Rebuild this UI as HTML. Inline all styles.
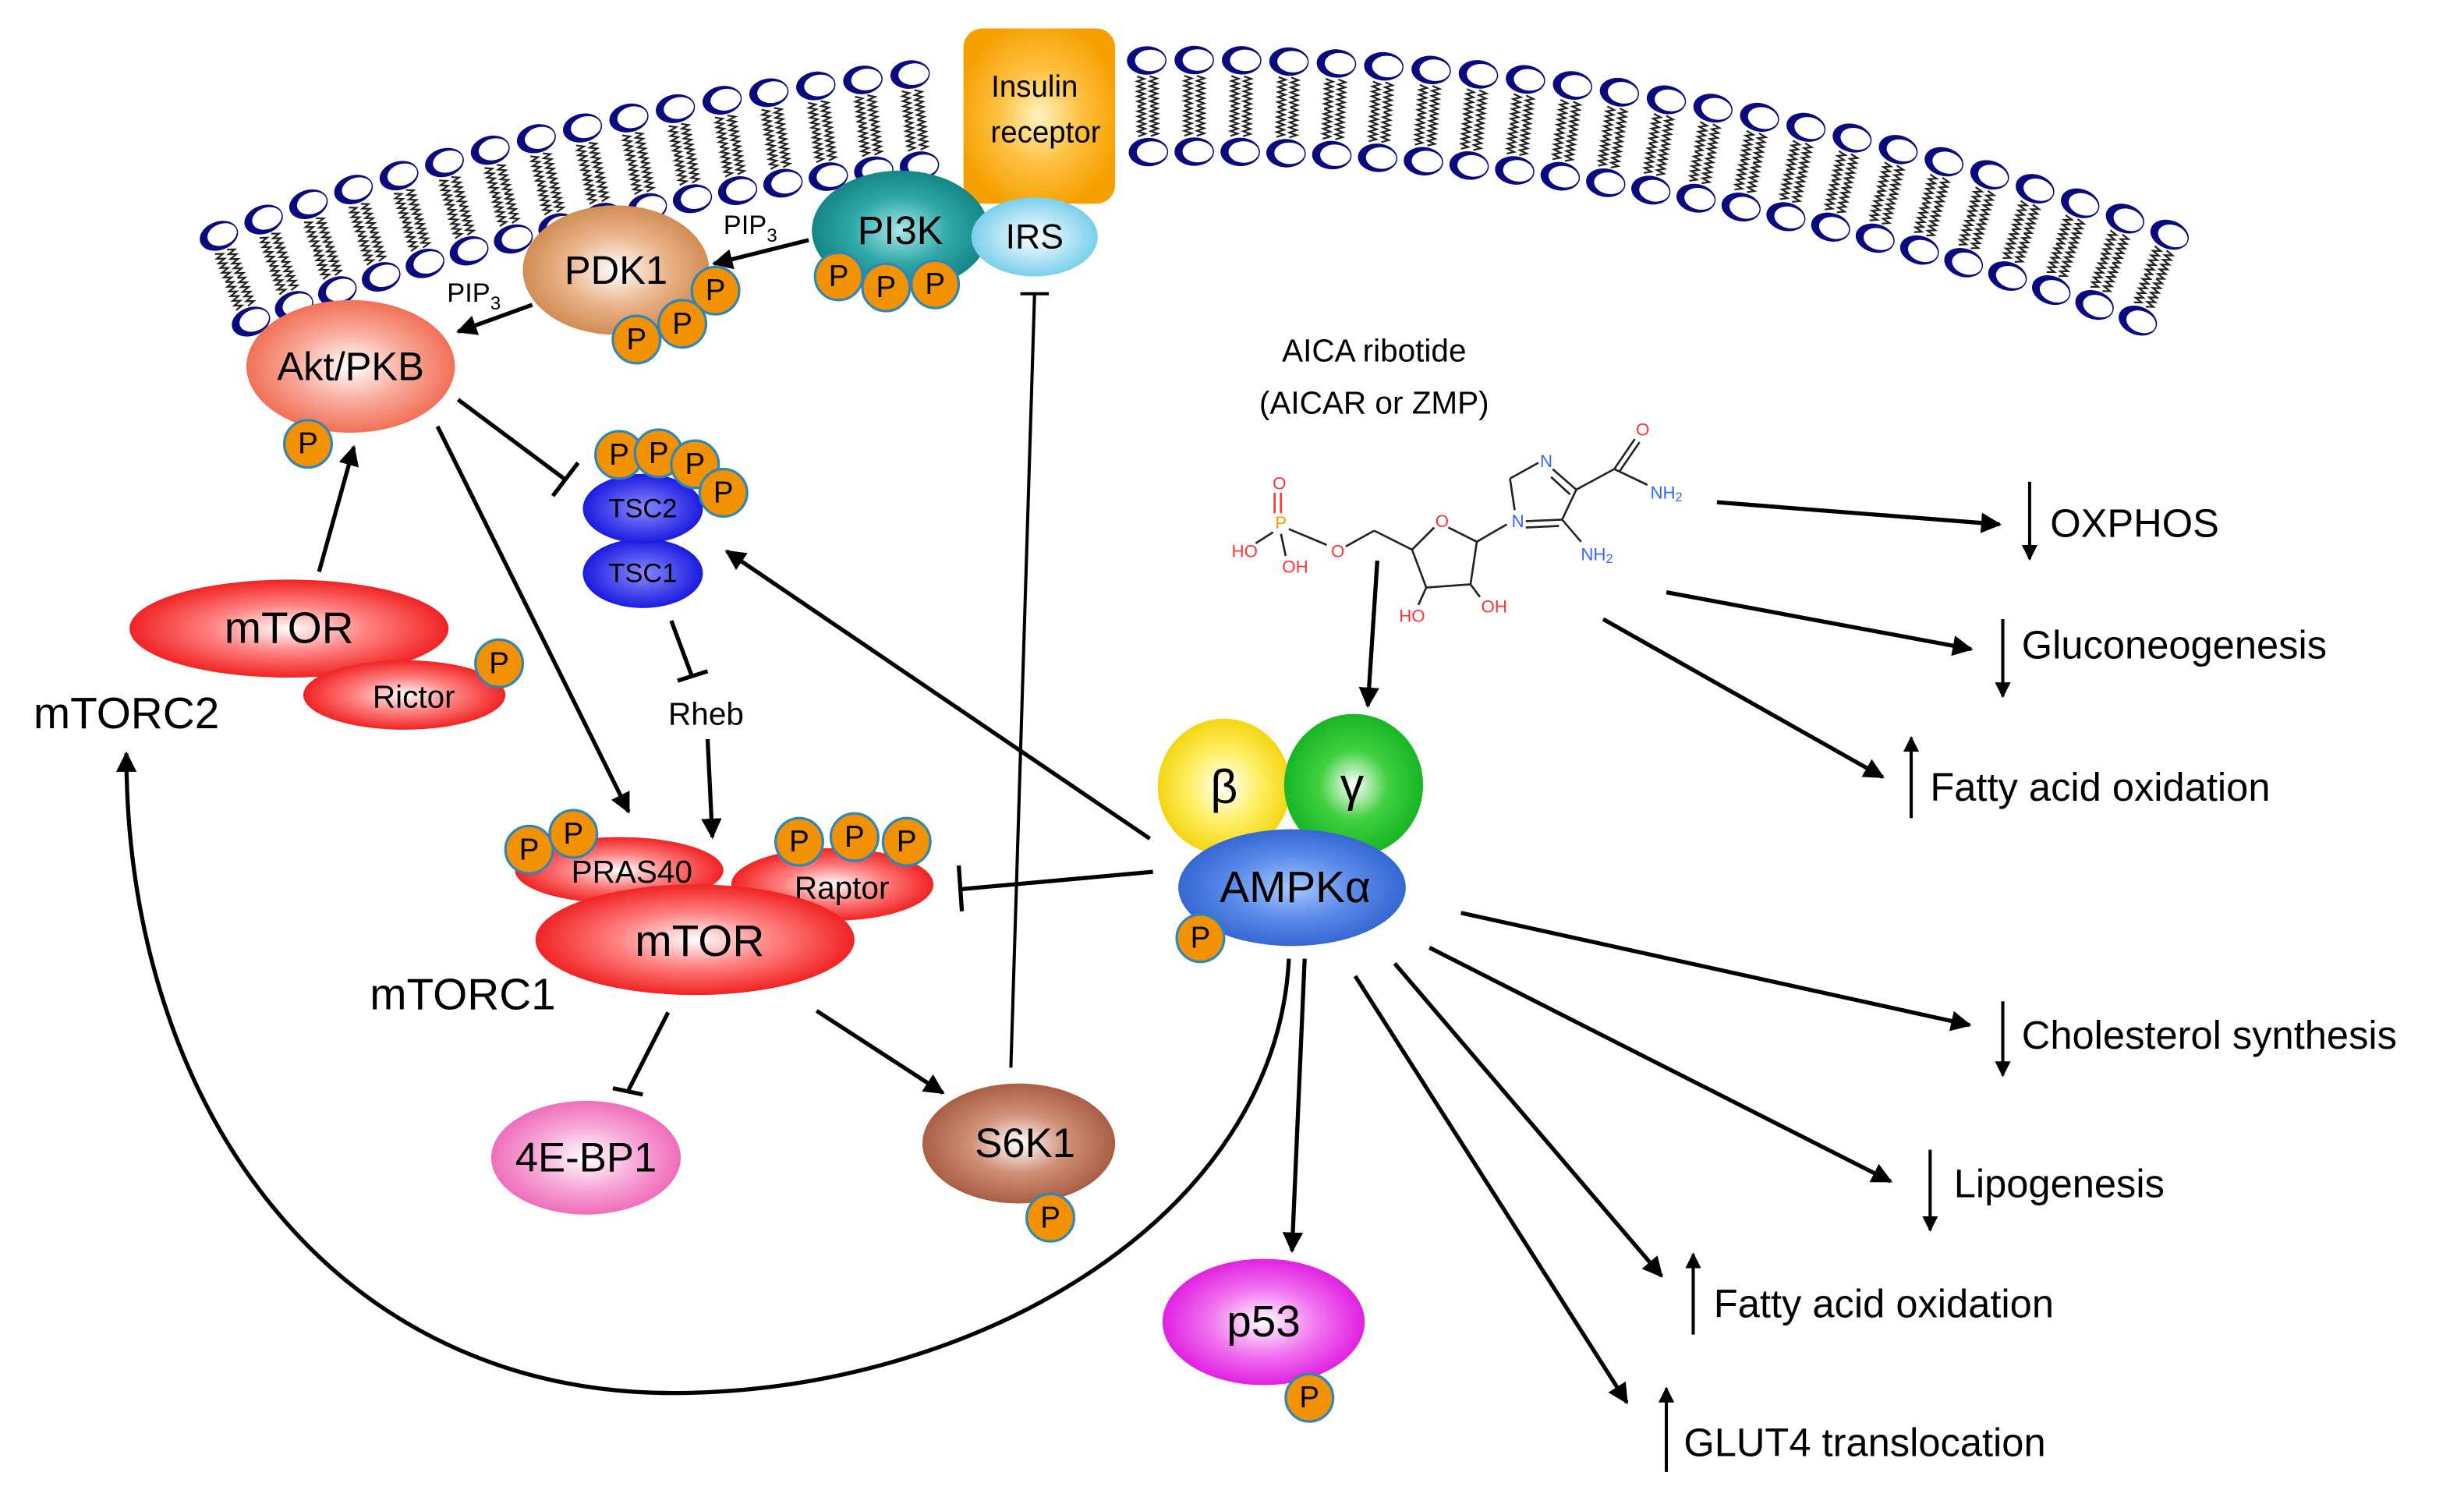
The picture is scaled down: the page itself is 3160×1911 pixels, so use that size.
<!DOCTYPE html>
<html><head><meta charset="utf-8"><style>
html,body{margin:0;padding:0;background:#fff;width:3160px;height:1911px;overflow:hidden}
svg{display:block}
text{font-family:"Liberation Sans",sans-serif;fill:#000}
.lbl{text-anchor:middle;dominant-baseline:central}
</style></head><body>
<svg id="s" width="3160" height="1911" viewBox="0 0 1560 943.4" preserveAspectRatio="none" xmlns="http://www.w3.org/2000/svg">
<defs>
<radialGradient id="gRed" cx="50%" cy="50%" r="55%"><stop offset="0" stop-color="#fff"/><stop offset="0.45" stop-color="#ff8080"/><stop offset="1" stop-color="#ee1111"/></radialGradient>
<radialGradient id="gOr" cx="50%" cy="50%" r="55%"><stop offset="0" stop-color="#fff3c0"/><stop offset="0.5" stop-color="#ffc040"/><stop offset="1" stop-color="#f5a000"/></radialGradient>
<radialGradient id="gTeal" cx="50%" cy="50%" r="55%"><stop offset="0" stop-color="#a8e8e8"/><stop offset="0.5" stop-color="#30a8a8"/><stop offset="1" stop-color="#0e7e7e"/></radialGradient>
<radialGradient id="gIRS" cx="50%" cy="50%" r="55%"><stop offset="0" stop-color="#fff"/><stop offset="1" stop-color="#6ccbeb"/></radialGradient>
<radialGradient id="gPDK" cx="50%" cy="50%" r="55%"><stop offset="0" stop-color="#fff"/><stop offset="0.5" stop-color="#eab48a"/><stop offset="1" stop-color="#cc8448"/></radialGradient>
<radialGradient id="gAkt" cx="50%" cy="50%" r="55%"><stop offset="0" stop-color="#fff"/><stop offset="0.5" stop-color="#f8a898"/><stop offset="1" stop-color="#f06448"/></radialGradient>
<radialGradient id="gBlue" cx="50%" cy="50%" r="55%"><stop offset="0" stop-color="#8888ff"/><stop offset="1" stop-color="#1010dd"/></radialGradient>
<radialGradient id="gPink" cx="50%" cy="50%" r="55%"><stop offset="0" stop-color="#fff"/><stop offset="0.5" stop-color="#f7a8d8"/><stop offset="1" stop-color="#ee60b4"/></radialGradient>
<radialGradient id="gBrown" cx="50%" cy="50%" r="55%"><stop offset="0" stop-color="#fff"/><stop offset="0.45" stop-color="#d09078"/><stop offset="1" stop-color="#a2553a"/></radialGradient>
<radialGradient id="gYel" cx="50%" cy="50%" r="55%"><stop offset="0" stop-color="#fff"/><stop offset="0.5" stop-color="#ffef60"/><stop offset="1" stop-color="#f0d000"/></radialGradient>
<radialGradient id="gGrn" cx="50%" cy="50%" r="55%"><stop offset="0" stop-color="#fff"/><stop offset="0.45" stop-color="#40d040"/><stop offset="1" stop-color="#10b020"/></radialGradient>
<radialGradient id="gAMPK" cx="50%" cy="50%" r="55%"><stop offset="0" stop-color="#a8c8ff"/><stop offset="0.5" stop-color="#5a8ae8"/><stop offset="1" stop-color="#2e60d0"/></radialGradient>
<radialGradient id="gMag" cx="50%" cy="50%" r="55%"><stop offset="0" stop-color="#fff"/><stop offset="0.5" stop-color="#f070f0"/><stop offset="1" stop-color="#dd10dd"/></radialGradient>
<marker id="ah" viewBox="0 0 10 10" refX="9" refY="5" markerWidth="5" markerHeight="5" orient="auto-start-reverse" markerUnits="strokeWidth"><path d="M0,0 L10,5 L0,10 z" fill="#000"/></marker>
<g id="P"><circle r="15" fill="#f39200" stroke="#2f86b8" stroke-width="1.6"/><text class="lbl" font-size="19">P</text></g>
</defs>
<g id="mem"></g>

<rect x="610" y="18" width="96" height="111" rx="12" fill="url(#gOr)"/>
<text class="lbl" x="655" y="55" font-size="19">Insulin</text>
<text class="lbl" x="662" y="84" font-size="19">receptor</text>

<g stroke="#000" stroke-width="2.6" fill="none">
<line x1="512" y1="152" x2="452" y2="167" marker-end="url(#ah)"/>
<line x1="337" y1="193" x2="290" y2="210" marker-end="url(#ah)"/>
<line x1="290" y1="253" x2="357" y2="303"/>
<line x1="366" y1="293" x2="350" y2="314"/>
<line x1="277" y1="270" x2="398" y2="514" marker-end="url(#ah)"/>
<line x1="425" y1="393" x2="438" y2="428"/>
<line x1="429" y1="431" x2="448" y2="425"/>
<line x1="448" y1="468" x2="451" y2="530" marker-end="url(#ah)"/>
<line x1="202" y1="362" x2="224" y2="283" marker-end="url(#ah)"/>
<line x1="730" y1="552" x2="608" y2="563"/>
<line x1="607" y1="548" x2="609" y2="577"/>
<line x1="728" y1="531" x2="460" y2="349" marker-end="url(#ah)"/>
<line x1="640" y1="676" x2="655" y2="186" stroke-width="2"/>
<line x1="646" y1="186" x2="664" y2="186" stroke-width="2"/>
<line x1="423" y1="641" x2="398" y2="690"/>
<line x1="388" y1="689" x2="407" y2="693"/>
<line x1="517" y1="640" x2="597" y2="692" marker-end="url(#ah)"/>
<line x1="872" y1="355" x2="866" y2="447" marker-end="url(#ah)"/>
<line x1="1087" y1="318" x2="1266" y2="332" marker-end="url(#ah)"/>
<line x1="1055" y1="375" x2="1248" y2="411" marker-end="url(#ah)"/>
<line x1="1015" y1="392" x2="1192" y2="492" marker-end="url(#ah)"/>
<line x1="925" y1="578" x2="1247" y2="649" marker-end="url(#ah)"/>
<line x1="905" y1="600" x2="1197" y2="748" marker-end="url(#ah)"/>
<line x1="883" y1="610" x2="1052" y2="808" marker-end="url(#ah)"/>
<line x1="858" y1="618" x2="1030" y2="888" marker-end="url(#ah)"/>
<line x1="826" y1="607" x2="818" y2="792" marker-end="url(#ah)"/>
<path d="M816,607 C808,770 620,880 430,882 C210,884 80,700 80,477" marker-end="url(#ah)"/>
<line x1="1285" y1="305" x2="1285" y2="354" stroke-width="2" marker-end="url(#ah)"/>
<line x1="1268" y1="392" x2="1268" y2="441" stroke-width="2" marker-end="url(#ah)"/>
<line x1="1210" y1="518" x2="1210" y2="467" stroke-width="2" marker-end="url(#ah)"/>
<line x1="1268" y1="634" x2="1268" y2="681" stroke-width="2" marker-end="url(#ah)"/>
<line x1="1222" y1="728" x2="1222" y2="779" stroke-width="2" marker-end="url(#ah)"/>
<line x1="1072" y1="845" x2="1072" y2="794" stroke-width="2" marker-end="url(#ah)"/>
<line x1="1055" y1="932" x2="1055" y2="879" stroke-width="2" marker-end="url(#ah)"/>
</g>

<ellipse cx="570" cy="146" rx="56" ry="38" fill="url(#gTeal)"/>
<text class="lbl" x="570" y="146" font-size="25">PI3K</text>
<ellipse cx="655" cy="150" rx="40" ry="25" fill="url(#gIRS)"/>
<text class="lbl" x="655" y="150" font-size="22">IRS</text>
<use href="#P" x="531" y="175"/><use href="#P" x="561" y="182"/><use href="#P" x="592" y="180"/>

<ellipse cx="390" cy="171" rx="59" ry="41" fill="url(#gPDK)"/>
<text class="lbl" x="390" y="171" font-size="25">PDK1</text>
<use href="#P" x="453" y="184"/><use href="#P" x="432" y="205"/><use href="#P" x="403" y="215"/>
<text x="458" y="148" font-size="17">PIP<tspan font-size="12" dy="5">3</tspan></text>
<text x="283" y="191" font-size="17">PIP<tspan font-size="12" dy="5">3</tspan></text>

<ellipse cx="222" cy="232" rx="66" ry="42" fill="url(#gAkt)"/>
<text class="lbl" x="222" y="232" font-size="25">Akt/PKB</text>
<use href="#P" x="195" y="281"/>

<ellipse cx="407" cy="363" rx="38" ry="22" fill="url(#gBlue)"/>
<text class="lbl" x="407" y="363" font-size="17">TSC1</text>
<ellipse cx="407" cy="322" rx="38" ry="22" fill="url(#gBlue)"/>
<text class="lbl" x="407" y="322" font-size="17">TSC2</text>
<use href="#P" x="392" y="288"/><use href="#P" x="417" y="287"/><use href="#P" x="440" y="294"/><use href="#P" x="458" y="312"/>

<text class="lbl" x="447" y="452" font-size="20">Rheb</text>

<ellipse cx="183" cy="398" rx="101" ry="31" fill="url(#gRed)"/>
<text class="lbl" x="183" y="398" font-size="28">mTOR</text>
<ellipse cx="256" cy="440" rx="64" ry="22" fill="url(#gRed)"/>
<text class="lbl" x="262" y="441" font-size="20">Rictor</text>
<use href="#P" x="316" y="420"/>
<text class="lbl" x="80" y="452" font-size="28">mTORC2</text>

<ellipse cx="392" cy="551" rx="66" ry="21" fill="url(#gRed)"/>
<text class="lbl" x="400" y="552" font-size="20">PRAS40</text>
<ellipse cx="527" cy="560" rx="64" ry="23" fill="url(#gRed)"/>
<text class="lbl" x="533" y="562" font-size="20">Raptor</text>
<ellipse cx="440" cy="595" rx="101" ry="35" fill="url(#gRed)"/>
<text class="lbl" x="443" y="596" font-size="28">mTOR</text>
<use href="#P" x="335" y="538"/><use href="#P" x="363" y="528"/>
<use href="#P" x="506" y="533"/><use href="#P" x="541" y="530"/><use href="#P" x="574" y="533"/>
<text class="lbl" x="293" y="630" font-size="28">mTORC1</text>

<ellipse cx="371" cy="733" rx="60" ry="36" fill="url(#gPink)"/>
<text class="lbl" x="371" y="733" font-size="26">4E-BP1</text>
<ellipse cx="645" cy="724" rx="61" ry="38" fill="url(#gBrown)"/>
<text class="lbl" x="649" y="724" font-size="26">S6K1</text>
<use href="#P" x="665" y="771"/>

<ellipse cx="775" cy="498" rx="42" ry="43" fill="url(#gYel)"/>
<text class="lbl" x="775" y="498" font-size="30" font-family="Liberation Serif">β</text>
<ellipse cx="857" cy="497" rx="44" ry="45" fill="url(#gGrn)"/>
<text class="lbl" x="856" y="497" font-size="30">γ</text>
<ellipse cx="818" cy="562" rx="72" ry="37" fill="url(#gAMPK)"/>
<text class="lbl" x="820" y="562" font-size="28">AMPKα</text>
<use href="#P" x="760" y="594"/>

<ellipse cx="800" cy="837" rx="64" ry="40" fill="url(#gMag)"/>
<text class="lbl" x="800" y="837" font-size="28">p53</text>
<use href="#P" x="829" y="885"/>

<text class="lbl" x="870" y="222" font-size="20">AICA ribotide</text>
<text class="lbl" x="870" y="255" font-size="20">(AICAR or ZMP)</text>

<g stroke="#222" stroke-width="1.3" fill="none">
<line x1="807" y1="312" x2="807" y2="325" stroke="#f33"/><line x1="811" y1="312" x2="811" y2="325" stroke="#f33"/>
<line x1="806" y1="337" x2="795" y2="344"/><line x1="811" y1="338" x2="814" y2="352"/><line x1="816" y1="335" x2="840" y2="345"/>
<line x1="852" y1="346" x2="870" y2="336"/><line x1="870" y1="336" x2="894" y2="348"/>
<line x1="894" y1="348" x2="908" y2="334"/><line x1="917" y1="334" x2="935" y2="343"/>
<line x1="935" y1="343" x2="931" y2="370"/><line x1="931" y1="370" x2="903" y2="372"/><line x1="903" y1="372" x2="894" y2="348"/>
<line x1="903" y1="372" x2="898" y2="383"/><line x1="931" y1="370" x2="937" y2="378"/>
<line x1="935" y1="343" x2="954" y2="332"/>
<line x1="959" y1="323" x2="956" y2="303"/><line x1="956" y1="303" x2="974" y2="293"/>
<line x1="983" y1="297" x2="998" y2="310"/><line x1="982" y1="302" x2="994" y2="313"/>
<line x1="998" y1="310" x2="989" y2="329"/><line x1="966" y1="330" x2="989" y2="329"/><line x1="966" y1="334" x2="987" y2="333"/>
<line x1="989" y1="329" x2="1001" y2="343"/>
<line x1="998" y1="310" x2="1022" y2="297"/><line x1="1022" y1="297" x2="1035" y2="278"/><line x1="1025" y1="299" x2="1038" y2="280"/>
<line x1="1022" y1="297" x2="1043" y2="307"/>
</g>
<g font-size="11" text-anchor="middle" dominant-baseline="central">
<text x="810" y="306" style="fill:#f33">O</text>
<text x="811" y="331" style="fill:#f90">P</text>
<text x="788" y="349" style="fill:#f33">HO</text>
<text x="820" y="359" style="fill:#f33">OH</text>
<text x="847" y="349" style="fill:#f33">O</text>
<text x="913" y="330" style="fill:#f33">O</text>
<text x="894" y="390" style="fill:#f33">HO</text>
<text x="946" y="384" style="fill:#f33">OH</text>
<text x="961" y="330" style="fill:#36f">N</text>
<text x="979" y="292" style="fill:#36f">N</text>
<text x="1011" y="351" style="fill:#36f">NH<tspan font-size="8" dy="3">2</tspan></text>
<text x="1040" y="272" style="fill:#f33">O</text>
<text x="1055" y="312" style="fill:#36f">NH<tspan font-size="8" dy="3">2</tspan></text>
</g>

<g font-size="25">
<text x="1298" y="340">OXPHOS</text>
<text x="1280" y="417">Gluconeogenesis</text>
<text x="1222" y="507">Fatty acid oxidation</text>
<text x="1280" y="664">Cholesterol synthesis</text>
<text x="1237" y="758">Lipogenesis</text>
<text x="1085" y="834">Fatty acid oxidation</text>
<text x="1066" y="922">GLUT4 translocation</text>
</g>
</svg>
<script>
(function(){
var g=document.getElementById("mem");
var cx=757,cy=1812,Ro=1774,Ri=1716;
var html="";
for(var i=-20.4;i<=20.5;i+=0.97){
  var t=i*Math.PI/180,s=Math.sin(t),c=Math.cos(t);
  var xo=cx+Ro*s,yo=cy-Ro*c,xi=cx+Ri*s,yi=cy-Ri*c;
  if(xo>600&&xo<712) continue;
  for(var k=-1;k<=1;k+=2){
    var ox=k*4*c,oy=k*4*s;
    [[Ro-10,Ro-29],[Ri+10,Ri+29]].forEach(function(r){
      var d="M";var n=12;
      for(var j=0;j<=n;j++){var rr=r[0]+(r[1]-r[0])*j/n;var w=(j%2?2.3:-2.3);
        var px=cx+rr*s+ox+w*c,py=cy-rr*c+oy+w*s; d+=(j?" L":"")+px.toFixed(1)+","+py.toFixed(1);}
      html+='<path d="'+d+'" stroke="#222" stroke-width="1.1" fill="none"/>';
    });
  }
  [[xo,yo],[xi,yi]].forEach(function(p){
    html+='<g transform="translate('+p[0].toFixed(1)+','+p[1].toFixed(1)+') rotate('+i.toFixed(2)+')"><ellipse rx="12.5" ry="9" fill="#0a0a80"/><ellipse cx="2.2" cy="0" rx="9.6" ry="6.8" fill="#fff"/></g>';
  });
}
g.innerHTML=html;
})();
</script>
</body></html>
